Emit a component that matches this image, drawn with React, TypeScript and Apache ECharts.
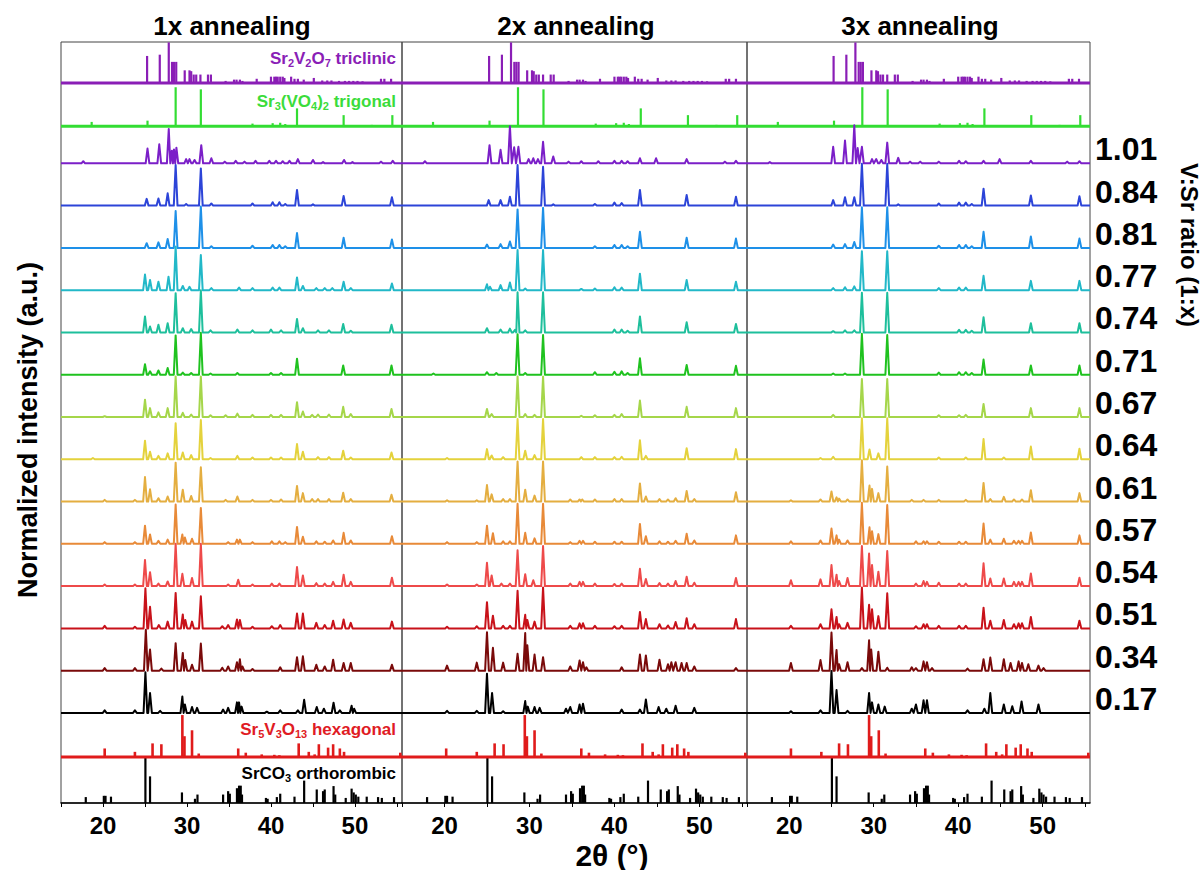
import React, { useEffect, useRef } from "react";
import * as echarts from "echarts";

// ---- labels ----
const columnTitles = ["1x annealing", "2x annealing", "3x annealing"];
const ratios = ["1.01", "0.84", "0.81", "0.77", "0.74", "0.71", "0.67", "0.64", "0.61", "0.57", "0.54", "0.51", "0.34", "0.17"];
const xTickLabels = [20, 30, 40, 50];
const xTicks = [15, 20, 25, 30, 35, 40, 45, 50, 55];

// ---- reference patterns: [2θ, relative intensity] ----
const sr2v2o7 = [[25.25,0.64],[26.76,0.67],[27.83,0.96],[28.22,0.5],[28.46,0.5],[28.72,0.5],[29.73,0.3],[30.3,0.3],[30.5,0.28],[30.8,0.2],[31.1,0.2],[31.6,0.2],[32.5,0.2],[32.85,0.2],[34.6,0.05],[35.6,0.08],[35.9,0.08],[36.3,0.08],[36.6,0.05],[38.3,0.1],[40.0,0.15],[40.4,0.15],[40.6,0.15],[40.8,0.15],[41.1,0.15],[41.4,0.15],[41.6,0.12],[42.4,0.15],[42.8,0.1],[43.2,0.1],[43.9,0.08],[45.1,0.12],[46.1,0.06],[46.7,0.06],[47.2,0.06],[48.1,0.05],[48.8,0.05],[49.3,0.05],[49.8,0.05],[50.3,0.05],[50.9,0.04],[53.1,0.1],[53.5,0.1],[54.3,0.1]];
const sr3vo42 = [[18.65,0.1],[25.3,0.13],[28.65,0.92],[31.65,0.87],[37.8,0.06],[40.2,0.07],[41.1,0.08],[41.7,0.05],[43.1,0.42],[48.65,0.26],[52.0,0.03],[54.45,0.26]];
const sr5v3o13 = [[20.2,0.2],[23.8,0.12],[25.9,0.32],[26.95,0.3],[29.45,0.99],[29.7,0.49],[30.6,0.63],[31.4,0.08],[36.1,0.2],[37.0,0.1],[38.9,0.06],[40.4,0.05],[41.0,0.04],[43.3,0.32],[44.5,0.12],[45.2,0.06],[45.7,0.3],[46.8,0.22],[47.4,0.3],[48.2,0.2],[48.7,0.12],[55.4,0.1]];
const srco3 = [[17.95,0.14],[20.1,0.17],[20.3,0.17],[20.95,0.15],[25.05,1.07],[25.6,0.63],[29.4,0.25],[30.95,0.1],[31.25,0.2],[34.3,0.2],[34.9,0.28],[35.1,0.22],[35.95,0.35],[36.2,0.41],[36.4,0.41],[36.55,0.2],[39.4,0.12],[39.6,0.1],[40.7,0.14],[41.1,0.22],[42.8,0.15],[43.95,0.53],[45.45,0.32],[46.2,0.28],[46.4,0.32],[47.45,0.4],[47.65,0.2],[48.9,0.12],[49.6,0.34],[49.85,0.25],[50.1,0.2],[50.4,0.15],[51.4,0.15],[52.75,0.14],[53.2,0.12],[54.65,0.14]];

// ---- measured patterns, 1x annealing ----
const a1_101 = [[17.65,0.05],[25.3,0.35],[26.7,0.45],[27.83,0.81],[28.2,0.3],[28.45,0.33],[28.74,0.37],[29.9,0.1],[30.3,0.1],[30.9,0.08],[31.7,0.43],[32.9,0.12],[34.5,0.04],[35.8,0.06],[36.85,0.04],[38.16,0.06],[39.8,0.06],[40.6,0.06],[41.4,0.05],[42.2,0.06],[43.2,0.1],[45.0,0.08],[46.2,0.03],[48.7,0.08],[49.7,0.03],[53.1,0.04],[54.5,0.06]];
const a1_084 = [[25.2,0.16],[26.6,0.17],[27.7,0.29],[28.65,0.96],[29.9,0.04],[31.65,0.88],[32.9,0.05],[37.8,0.05],[40.2,0.08],[41.0,0.08],[41.7,0.04],[43.1,0.37],[45.0,0.03],[48.65,0.23],[54.4,0.2]];
const a1_081 = [[25.2,0.11],[26.6,0.13],[27.7,0.21],[28.65,0.87],[31.65,0.98],[32.9,0.04],[37.8,0.05],[40.2,0.07],[41.0,0.07],[41.7,0.04],[43.1,0.35],[48.65,0.24],[54.4,0.2]];
const a1_077 = [[25.0,0.37],[25.6,0.24],[26.6,0.2],[27.8,0.32],[28.65,1.03],[29.5,0.1],[30.3,0.08],[31.65,0.83],[32.9,0.05],[36.2,0.06],[37.8,0.05],[40.2,0.06],[41.0,0.06],[43.1,0.3],[43.8,0.1],[45.4,0.05],[46.4,0.05],[47.3,0.05],[48.65,0.2],[49.5,0.05],[54.4,0.16]];
const a1_074 = [[25.0,0.38],[25.6,0.14],[26.6,0.18],[27.7,0.22],[28.65,0.93],[29.5,0.1],[30.5,0.08],[31.65,1.0],[32.8,0.05],[36.0,0.07],[37.8,0.05],[40.0,0.07],[41.2,0.05],[43.1,0.32],[43.8,0.1],[45.6,0.05],[46.9,0.05],[48.6,0.2],[49.5,0.04],[54.35,0.18]];
const a1_071 = [[25.0,0.25],[25.6,0.08],[26.6,0.1],[27.7,0.16],[28.65,0.93],[29.5,0.05],[30.5,0.04],[31.65,0.99],[32.8,0.03],[36.0,0.04],[40.0,0.04],[41.2,0.04],[43.1,0.38],[48.6,0.22],[54.35,0.22]];
const a1_067 = [[20.2,0.02],[25.0,0.41],[25.6,0.21],[26.6,0.11],[27.7,0.21],[28.65,0.96],[29.5,0.1],[30.5,0.06],[31.65,0.96],[32.8,0.04],[34.6,0.04],[36.0,0.08],[37.8,0.05],[40.0,0.05],[41.2,0.05],[43.1,0.35],[43.8,0.13],[44.9,0.05],[45.6,0.06],[46.9,0.06],[48.6,0.24],[49.5,0.07],[54.35,0.19]];
const a1_064 = [[18.8,0.03],[25.0,0.44],[25.6,0.18],[26.6,0.08],[27.7,0.14],[28.65,0.85],[29.5,0.16],[30.5,0.1],[31.65,0.93],[32.8,0.03],[36.0,0.08],[37.8,0.04],[40.0,0.04],[41.2,0.04],[43.1,0.36],[43.8,0.18],[45.6,0.05],[46.9,0.05],[48.6,0.2],[49.5,0.04],[54.35,0.16]];
const a1_061 = [[20.2,0.04],[23.8,0.04],[25.0,0.58],[25.6,0.29],[26.6,0.08],[27.7,0.12],[28.65,0.92],[29.5,0.28],[30.5,0.13],[31.65,0.81],[34.6,0.04],[36.0,0.12],[37.8,0.04],[40.0,0.04],[41.2,0.05],[43.1,0.37],[43.8,0.2],[44.9,0.06],[45.6,0.06],[46.9,0.06],[48.6,0.21],[49.5,0.06],[54.35,0.16]];
const a1_057 = [[20.2,0.04],[23.8,0.04],[25.0,0.43],[25.6,0.22],[26.6,0.07],[27.7,0.1],[28.65,0.93],[29.45,0.22],[29.75,0.15],[30.6,0.12],[31.65,0.85],[34.9,0.04],[35.95,0.1],[36.3,0.1],[37.8,0.04],[40.1,0.06],[41.0,0.06],[41.7,0.04],[43.1,0.4],[43.8,0.17],[45.4,0.06],[46.4,0.05],[47.4,0.08],[48.65,0.26],[49.5,0.08],[54.4,0.18]];
const a1_054 = [[20.2,0.04],[23.8,0.04],[25.0,0.62],[25.6,0.33],[26.6,0.06],[27.7,0.11],[28.65,1.0],[29.45,0.29],[30.6,0.19],[31.65,1.0],[34.9,0.04],[36.1,0.15],[37.8,0.04],[40.1,0.06],[41.0,0.06],[43.1,0.45],[43.8,0.25],[45.4,0.07],[46.4,0.06],[47.4,0.1],[48.65,0.27],[49.5,0.1],[54.4,0.2]];
const a1_051 = [[20.2,0.06],[23.8,0.04],[25.05,0.95],[25.6,0.51],[26.65,0.08],[27.7,0.16],[28.65,0.84],[29.5,0.33],[29.8,0.2],[30.6,0.16],[31.65,0.76],[34.2,0.05],[34.9,0.08],[35.95,0.21],[36.3,0.2],[37.8,0.04],[40.1,0.05],[41.1,0.08],[43.1,0.35],[43.8,0.35],[45.4,0.13],[46.4,0.08],[47.4,0.18],[48.65,0.21],[49.5,0.13],[54.4,0.16]];
const a1_034 = [[20.2,0.06],[23.8,0.06],[25.1,0.97],[25.6,0.5],[26.95,0.05],[28.65,0.65],[29.5,0.42],[29.8,0.25],[30.6,0.14],[31.65,0.64],[34.2,0.07],[34.9,0.1],[35.95,0.2],[36.3,0.27],[36.6,0.1],[37.8,0.04],[41.1,0.08],[43.1,0.32],[43.8,0.34],[45.4,0.14],[46.4,0.1],[47.4,0.26],[48.65,0.18],[49.5,0.18],[54.4,0.14]];
const a1_017 = [[20.2,0.06],[23.8,0.06],[25.05,0.96],[25.6,0.47],[26.8,0.05],[29.45,0.39],[29.75,0.2],[30.6,0.14],[31.2,0.12],[34.3,0.08],[34.9,0.12],[35.95,0.25],[36.2,0.25],[36.5,0.15],[39.5,0.03],[41.1,0.06],[43.2,0.06],[43.95,0.31],[45.45,0.14],[46.3,0.1],[47.45,0.24],[48.2,0.06],[49.6,0.17],[49.9,0.1]];

// ---- measured patterns, 2x annealing ----
const a2_101 = [[17.7,0.05],[25.3,0.43],[26.6,0.32],[27.7,0.88],[28.2,0.38],[28.7,0.39],[29.9,0.1],[30.45,0.12],[31.0,0.1],[31.6,0.51],[32.8,0.16],[34.6,0.04],[36.1,0.05],[38.1,0.05],[40.0,0.06],[40.85,0.06],[41.55,0.05],[43.0,0.12],[44.9,0.12],[48.5,0.1],[53.0,0.04],[54.3,0.06]];
const a2_084 = [[25.2,0.13],[26.6,0.13],[27.7,0.21],[28.6,0.96],[31.6,0.92],[32.8,0.03],[37.7,0.04],[40.0,0.07],[40.85,0.06],[43.0,0.37],[48.5,0.25],[54.3,0.21]];
const a2_081 = [[25.0,0.08],[26.6,0.09],[27.7,0.15],[28.6,0.91],[31.6,0.95],[37.7,0.04],[40.0,0.07],[40.85,0.07],[41.55,0.04],[43.0,0.38],[48.5,0.24],[54.3,0.22]];
const a2_077 = [[25.0,0.14],[25.35,0.08],[26.6,0.12],[27.7,0.18],[28.6,0.95],[29.5,0.04],[31.6,0.95],[36.1,0.03],[37.7,0.04],[40.0,0.07],[40.85,0.06],[43.0,0.39],[48.5,0.24],[54.3,0.2]];
const a2_074 = [[25.0,0.1],[26.6,0.07],[27.7,0.09],[28.3,0.06],[28.6,0.95],[29.5,0.05],[31.6,0.95],[40.0,0.07],[40.85,0.07],[41.55,0.04],[43.0,0.38],[48.5,0.24],[54.3,0.2]];
const a2_071 = [[18.7,0.03],[25.0,0.06],[26.1,0.04],[28.6,0.96],[29.5,0.04],[31.6,0.94],[37.7,0.06],[40.0,0.07],[40.85,0.08],[41.55,0.04],[43.0,0.39],[48.5,0.23],[54.3,0.21]];
const a2_067 = [[25.0,0.19],[25.55,0.07],[28.6,0.96],[29.5,0.07],[30.6,0.05],[31.6,0.96],[36.1,0.03],[37.7,0.04],[40.0,0.05],[40.85,0.07],[43.0,0.39],[48.5,0.24],[54.3,0.21]];
const a2_064 = [[20.3,0.03],[25.0,0.24],[25.55,0.09],[26.9,0.05],[28.6,0.95],[29.5,0.2],[30.6,0.1],[31.6,0.95],[36.1,0.05],[37.7,0.05],[40.0,0.05],[40.85,0.06],[43.0,0.45],[43.7,0.08],[48.5,0.26],[54.3,0.24]];
const a2_061 = [[20.3,0.03],[23.8,0.03],[25.0,0.39],[25.55,0.17],[26.9,0.06],[27.7,0.06],[28.6,0.95],[29.5,0.28],[30.6,0.14],[31.6,0.95],[34.8,0.05],[35.9,0.05],[36.2,0.05],[37.7,0.05],[40.0,0.06],[40.85,0.06],[43.0,0.43],[43.7,0.12],[45.3,0.06],[46.3,0.05],[47.2,0.08],[48.5,0.25],[49.4,0.06],[54.3,0.22]];
const a2_057 = [[20.3,0.04],[23.8,0.04],[25.0,0.43],[25.7,0.25],[26.9,0.06],[27.7,0.06],[28.6,0.95],[29.5,0.26],[30.6,0.13],[31.6,0.95],[34.8,0.04],[35.9,0.07],[36.3,0.07],[37.7,0.05],[40.0,0.05],[40.85,0.05],[43.0,0.47],[43.7,0.18],[45.3,0.06],[46.3,0.05],[47.2,0.07],[48.5,0.24],[49.4,0.08],[54.3,0.2]];
const a2_054 = [[20.3,0.04],[23.8,0.04],[25.0,0.55],[25.55,0.25],[26.7,0.06],[27.7,0.06],[28.6,0.85],[29.5,0.28],[30.45,0.14],[31.6,0.95],[34.8,0.06],[35.9,0.1],[36.3,0.1],[37.7,0.06],[40.0,0.05],[40.85,0.06],[43.0,0.41],[43.7,0.17],[45.3,0.07],[46.3,0.06],[47.2,0.12],[48.5,0.22],[49.4,0.08],[54.3,0.19]];
const a2_051 = [[20.3,0.04],[23.8,0.05],[25.0,0.62],[25.7,0.3],[26.9,0.06],[27.7,0.06],[28.6,0.89],[29.5,0.32],[29.75,0.2],[30.6,0.16],[31.6,0.97],[34.8,0.06],[35.9,0.12],[36.3,0.12],[37.7,0.06],[40.0,0.05],[40.85,0.06],[43.0,0.39],[43.7,0.22],[45.3,0.1],[46.3,0.07],[47.2,0.15],[48.5,0.24],[49.4,0.1],[54.3,0.22]];
const a2_034 = [[20.3,0.12],[23.8,0.19],[25.0,0.91],[25.7,0.54],[26.9,0.19],[28.6,0.4],[29.5,0.89],[29.75,0.6],[30.6,0.38],[31.6,0.32],[34.8,0.1],[35.9,0.24],[36.3,0.2],[36.7,0.08],[40.85,0.08],[43.0,0.38],[43.7,0.36],[45.3,0.26],[46.3,0.15],[46.7,0.2],[47.2,0.2],[47.9,0.18],[48.5,0.18],[49.4,0.1],[54.3,0.06]];
const a2_017 = [[20.3,0.05],[23.8,0.05],[25.0,0.93],[25.6,0.47],[26.9,0.04],[29.5,0.28],[29.8,0.15],[30.6,0.14],[31.2,0.12],[34.3,0.1],[34.8,0.14],[35.9,0.2],[36.3,0.22],[40.85,0.08],[43.0,0.08],[43.7,0.32],[45.2,0.14],[46.1,0.1],[47.2,0.17],[49.4,0.12]];

// ---- measured patterns, 3x annealing ----
const a3_101 = [[17.7,0.03],[25.2,0.39],[26.6,0.54],[27.7,0.9],[28.1,0.36],[28.6,0.39],[29.8,0.1],[30.3,0.1],[30.9,0.08],[31.6,0.49],[32.9,0.13],[34.3,0.04],[35.5,0.04],[37.7,0.04],[40.1,0.06],[40.9,0.05],[43.0,0.06],[44.9,0.1],[48.6,0.06],[52.9,0.04],[54.35,0.05]];
const a3_084 = [[25.2,0.13],[26.6,0.2],[27.7,0.2],[28.6,0.99],[31.6,0.99],[32.9,0.03],[37.7,0.05],[40.1,0.07],[40.9,0.07],[41.6,0.04],[43.0,0.4],[48.6,0.24],[54.35,0.22]];
const a3_081 = [[25.2,0.08],[26.6,0.09],[27.7,0.14],[28.6,0.96],[31.6,0.96],[37.7,0.05],[40.1,0.07],[40.9,0.07],[41.6,0.04],[43.0,0.38],[48.6,0.27],[54.35,0.22]];
const a3_077 = [[25.2,0.05],[26.6,0.07],[27.7,0.09],[28.6,0.92],[31.6,0.92],[37.7,0.05],[40.1,0.06],[40.9,0.06],[43.0,0.34],[48.6,0.22],[54.35,0.22]];
const a3_074 = [[25.2,0.03],[26.6,0.05],[27.7,0.05],[28.6,0.94],[31.6,0.94],[40.1,0.06],[40.9,0.06],[41.6,0.04],[43.0,0.36],[48.6,0.22],[54.35,0.22]];
const a3_071 = [[25.2,0.03],[26.6,0.03],[28.6,0.97],[31.6,0.94],[37.7,0.05],[40.1,0.06],[40.9,0.06],[41.6,0.04],[43.0,0.36],[48.6,0.22],[54.35,0.22]];
const a3_067 = [[25.2,0.05],[28.6,0.9],[31.6,0.9],[37.7,0.04],[40.1,0.04],[40.9,0.05],[43.0,0.31],[48.6,0.21],[54.35,0.21]];
const a3_064 = [[23.7,0.03],[25.2,0.06],[28.6,0.97],[29.5,0.23],[30.55,0.14],[31.6,0.97],[37.7,0.04],[40.9,0.04],[43.0,0.48],[45.4,0.04],[48.6,0.3],[54.35,0.25]];
const a3_061 = [[20.2,0.03],[23.7,0.05],[25.0,0.24],[25.6,0.1],[25.9,0.07],[26.9,0.05],[28.6,0.98],[29.5,0.38],[29.8,0.3],[30.55,0.2],[31.6,0.83],[34.5,0.04],[35.9,0.04],[37.7,0.04],[40.9,0.04],[43.0,0.44],[43.8,0.06],[45.4,0.11],[46.6,0.05],[47.55,0.05],[48.6,0.27],[54.35,0.2]];
const a3_057 = [[20.2,0.06],[23.7,0.08],[25.0,0.36],[25.6,0.2],[25.9,0.1],[26.9,0.08],[28.6,0.97],[29.5,0.39],[29.8,0.3],[30.55,0.23],[31.6,0.92],[35.0,0.06],[35.9,0.06],[36.3,0.06],[37.7,0.05],[40.1,0.05],[40.9,0.05],[43.0,0.48],[43.8,0.1],[45.4,0.12],[46.6,0.07],[47.15,0.07],[47.55,0.07],[48.6,0.27],[54.35,0.2]];
const a3_054 = [[20.2,0.14],[23.7,0.16],[25.0,0.5],[25.6,0.27],[25.9,0.12],[26.9,0.19],[28.6,0.95],[29.45,0.77],[29.8,0.5],[30.55,0.34],[31.6,0.83],[35.0,0.06],[35.9,0.12],[36.3,0.1],[37.7,0.08],[40.1,0.06],[40.9,0.06],[43.0,0.54],[43.8,0.18],[45.4,0.18],[46.6,0.1],[47.15,0.1],[47.55,0.1],[48.6,0.3],[54.35,0.2]];
const a3_051 = [[20.2,0.06],[23.7,0.1],[25.0,0.45],[25.6,0.27],[25.9,0.1],[26.9,0.13],[28.6,0.97],[29.45,0.56],[29.8,0.45],[30.55,0.29],[31.6,0.83],[35.0,0.05],[35.9,0.1],[36.3,0.1],[37.7,0.06],[40.1,0.06],[40.9,0.06],[43.0,0.49],[43.8,0.18],[45.4,0.2],[46.6,0.1],[47.15,0.12],[47.55,0.12],[48.6,0.27],[54.35,0.18]];
const a3_034 = [[20.2,0.18],[23.7,0.25],[25.0,0.9],[25.6,0.49],[25.9,0.15],[26.9,0.2],[28.6,0.06],[29.45,0.72],[29.7,0.5],[30.55,0.45],[31.6,0.07],[34.5,0.08],[35.0,0.06],[35.9,0.22],[36.3,0.2],[36.9,0.06],[41.1,0.05],[43.0,0.27],[43.8,0.31],[45.4,0.27],[46.2,0.18],[47.15,0.22],[47.55,0.18],[48.3,0.15],[49.5,0.12],[50.1,0.06]];
const a3_017 = [[20.2,0.04],[23.7,0.06],[25.0,0.99],[25.6,0.54],[26.9,0.05],[29.45,0.47],[29.8,0.25],[30.55,0.2],[31.3,0.15],[34.5,0.1],[35.0,0.2],[35.9,0.3],[36.3,0.3],[41.1,0.06],[43.1,0.1],[43.8,0.47],[45.4,0.2],[46.4,0.16],[47.5,0.27],[49.5,0.2]];

const once = [a1_101, a1_084, a1_081, a1_077, a1_074, a1_071, a1_067, a1_064, a1_061, a1_057, a1_054, a1_051, a1_034, a1_017];
const twice = [a2_101, a2_084, a2_081, a2_077, a2_074, a2_071, a2_067, a2_064, a2_061, a2_057, a2_054, a2_051, a2_034, a2_017];
const thrice = [a3_101, a3_084, a3_081, a3_077, a3_074, a3_071, a3_067, a3_064, a3_061, a3_057, a3_054, a3_051, a3_034, a3_017];
const columns = [once, twice, thrice];

// ---- layout & style ----
const FONT = '"Liberation Sans", Arial, sans-serif';
const X_MIN = 15;
const X_MAX = 55.6;
const Y_MAX = 18;
const GRID_TOP = 42;
const GRID_H = 761;
const PX_PER_UNIT = GRID_H / Y_MAX;
const TRACE_BASE = 2.13; // offset of the lowest pattern
const STEP = 1; // vertical offset between stacked patterns
const gridBoxes = [
  { left: 61, width: 341 },
  { left: 402, width: 345 },
  { left: 747, width: 343 },
];
const traceColors = ["#7B1FC8", "#2C44D8", "#1E90E8", "#22B8C8", "#1EBF9C", "#1FC21F", "#A5D64A", "#E4D23C", "#E4AE40", "#E88A38", "#EE4A4A", "#C8121A", "#7A0A0A", "#000000"];

const references = [
  { name: "Sr2V2O7", peaks: sr2v2o7, base: 17.03, color: "#8A1EB6", width: 2.2, baseline: true },
  { name: "Sr3(VO4)2", peaks: sr3vo42, base: 16.01, color: "#33DD33", width: 2.2, baseline: true },
  { name: "Sr5V3O13", peaks: sr5v3o13, base: 1.09, color: "#E01B1B", width: 2.6, baseline: true },
  { name: "SrCO3", peaks: srco3, base: 0, color: "#000000", width: 2.2, baseline: false },
];

// turn a peak list into a polyline profile sitting on `base`
function profile(peaks: number[][], base: number, hw = 0.22) {
  const sorted = [...peaks].sort((a, b) => a[0] - b[0]);
  const pts: number[][] = [[X_MIN, base]];
  sorted.forEach(([x, h], i) => {
    const prev = i > 0 ? sorted[i - 1][0] : -Infinity;
    const next = i < sorted.length - 1 ? sorted[i + 1][0] : Infinity;
    const l = Math.min(hw, (x - prev) / 2);
    const r = Math.min(hw, (next - x) / 2);
    pts.push([x - l, base], [x, base + h], [x + r, base]);
  });
  pts.push([X_MAX, base]);
  return pts;
}

function stickSeries(ref: (typeof references)[number], c: number) {
  return {
    type: "custom",
    xAxisIndex: c,
    yAxisIndex: c,
    silent: true,
    data: ref.peaks,
    renderItem: (_p: any, api: any) => {
      const x = api.value(0);
      const h = api.value(1);
      const p0 = api.coord([x, ref.base]);
      const p1 = api.coord([x, ref.base + h]);
      return {
        type: "line",
        shape: { x1: p0[0], y1: p0[1], x2: p1[0], y2: p1[1] },
        style: { stroke: ref.color, lineWidth: ref.width },
      };
    },
  };
}

function buildOption() {
  const series: any[] = [];
  columns.forEach((col, c) => {
    references.forEach((ref) => {
      if (ref.baseline) {
        series.push({
          type: "line",
          xAxisIndex: c,
          yAxisIndex: c,
          silent: true,
          symbol: "none",
          data: [[X_MIN, ref.base], [X_MAX, ref.base]],
          lineStyle: { color: ref.color, width: 3 },
        });
      }
      series.push(stickSeries(ref, c));
    });
    col.forEach((peaks, i) => {
      const base = TRACE_BASE + (col.length - 1 - i) * STEP;
      series.push({
        type: "line",
        name: ratios[i],
        xAxisIndex: c,
        yAxisIndex: c,
        silent: true,
        symbol: "none",
        showSymbol: false,
        data: profile(peaks, base),
        lineStyle: { color: traceColors[i], width: 2, join: "round" },
      });
    });
  });

  const yPx = (v: number) => GRID_TOP + (Y_MAX - v) * PX_PER_UNIT;
  const graphic: any[] = [];
  const titleX = [232, 576, 920];
  columnTitles.forEach((t, c) => {
    graphic.push({
      type: "text",
      x: titleX[c],
      y: 26,
      style: { text: t, fontFamily: FONT, fontWeight: "bold", fontSize: 26, fill: "#000", align: "center", verticalAlign: "middle" },
    });
  });
  ratios.forEach((r, i) => {
    const base = TRACE_BASE + (ratios.length - 1 - i) * STEP;
    graphic.push({
      type: "text",
      x: 1095,
      y: yPx(base) - 14,
      style: { text: r, fontFamily: FONT, fontWeight: "bold", fontSize: 32, fill: "#000", align: "left", verticalAlign: "middle" },
    });
  });
  graphic.push({
    type: "text",
    x: 28,
    y: 430,
    rotation: Math.PI / 2,
    style: { text: "Normalized intensity (a.u.)", fontFamily: FONT, fontWeight: "bold", fontSize: 27, fill: "#000", align: "center", verticalAlign: "middle" },
  });
  graphic.push({
    type: "text",
    x: 1189,
    y: 245,
    rotation: -Math.PI / 2,
    style: { text: "V:Sr ratio (1:x)", fontFamily: FONT, fontWeight: "bold", fontSize: 24, fill: "#000", align: "center", verticalAlign: "middle" },
  });
  graphic.push({
    type: "text",
    x: 612,
    y: 855,
    style: { text: "2θ (°)", fontFamily: FONT, fontWeight: "bold", fontSize: 30, fill: "#000", align: "center", verticalAlign: "middle" },
  });

  const rich = (color: string) => ({
    m: { fontFamily: FONT, fontWeight: "bold", fontSize: 17, lineHeight: 20, fill: color, color },
    s: { fontFamily: FONT, fontWeight: "bold", fontSize: 11, lineHeight: 11, verticalAlign: "bottom", fill: color, color },
  });
  const phaseLabels = [
    { text: "{m|Sr}{s|2}{m|V}{s|2}{m|O}{s|7}{m| triclinic}", y: 58, color: "#8A1EB6" },
    { text: "{m|Sr}{s|3}{m|(VO}{s|4}{m|)}{s|2}{m| trigonal}", y: 101, color: "#3BDC3B" },
    { text: "{m|Sr}{s|5}{m|V}{s|3}{m|O}{s|13}{m| hexagonal}", y: 729, color: "#E01B24" },
    { text: "{m|SrCO}{s|3}{m| orthorombic}", y: 773, color: "#000000" },
  ];
  phaseLabels.forEach((l) => {
    graphic.push({
      type: "text",
      x: 396,
      y: l.y,
      style: { text: l.text, rich: rich(l.color), fill: l.color, align: "right", verticalAlign: "middle" },
    });
  });

  return {
    animation: false,
    backgroundColor: "#ffffff",
    grid: gridBoxes.map((g) => ({
      left: g.left,
      width: g.width,
      top: GRID_TOP,
      height: GRID_H,
      show: true,
      borderColor: "#444",
      borderWidth: 1,
      backgroundColor: "transparent",
    })),
    xAxis: gridBoxes.map((_g, c) => ({
      type: "value",
      gridIndex: c,
      min: X_MIN,
      max: X_MAX,
      axisLine: { show: true, lineStyle: { color: "#000", width: 1.5 } },
      axisTick: { show: true, customValues: xTicks, length: 4, lineStyle: { color: "#000" } },
      axisLabel: { customValues: xTickLabels, fontFamily: FONT, fontWeight: "bold", fontSize: 24, color: "#000", margin: 10 },
      splitLine: { show: false },
    })),
    yAxis: gridBoxes.map((_g, c) => ({ type: "value", gridIndex: c, min: 0, max: Y_MAX, show: false })),
    series,
    graphic,
  };
}

export default function App() {
  const ref = useRef<HTMLDivElement>(null);
  useEffect(() => {
    const chart = echarts.init(ref.current!, null, { renderer: "svg" });
    chart.setOption(buildOption() as any);
    return () => chart.dispose();
  }, []);
  return <div ref={ref} style={{ position: "absolute", left: 0, top: 0, width: 1204, height: 870 }} />;
}
